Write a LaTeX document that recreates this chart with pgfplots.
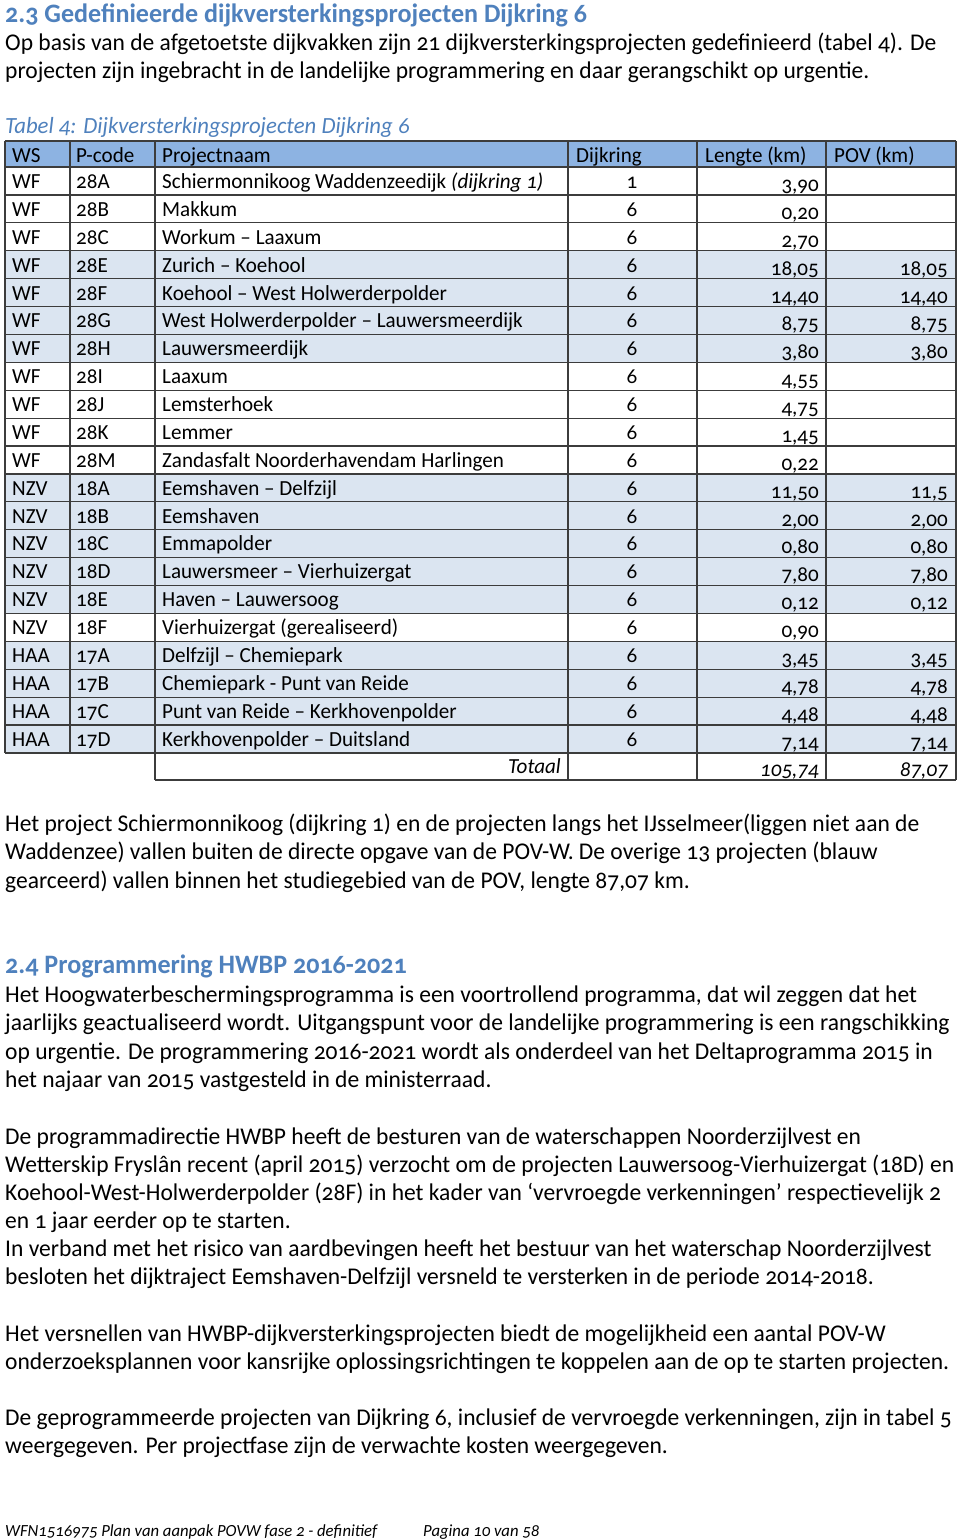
\documentclass[border=0pt]{standalone}
\usepackage{fontspec}
\setmainfont{Carlito}[Numbers=OldStyle, FakeStretch=0.98]
\usepackage{pgfplots}
\usepackage{pgfplotstable}
\pgfplotsset{compat=1.18}

\definecolor{headblue}{HTML}{4F81BD}
\definecolor{hdrfill}{HTML}{8DB3E2}
\definecolor{rowfill}{HTML}{DBE5F1}
\definecolor{rule}{HTML}{3C3C3C}

\newcommand{\body}{\fontsize{24}{28}\selectfont}
\newcommand{\tab}{\fontsize{21.5}{26}\selectfont}
\newcommand{\head}{\fontsize{26.6}{30}\selectfont\bfseries}

% row baselines (px from top)
\pgfplotstableread[col sep=semicolon]{
y;ws;pc;name;dk;len;pov
188;WF;28A;{Schiermonnikoog Waddenzeedijk \textit{(dijkring 1)}};1;3,90;{}
216;WF;28B;Makkum;6;0,20;{}
244;WF;28C;Workum – Laaxum;6;2,70;{}
272;WF;28E;Zurich – Koehool;6;18,05;18,05
300;WF;28F;Koehool – West Holwerderpolder;6;14,40;14,40
327;WF;28G;West Holwerderpolder – Lauwersmeerdijk;6;8,75;8,75
355;WF;28H;Lauwersmeerdijk;6;3,80;3,80
383;WF;28I;Laaxum;6;4,55;{}
411;WF;28J;Lemsterhoek;6;4,75;{}
439;WF;28K;Lemmer;6;1,45;{}
467;WF;28M;Zandasfalt Noorderhavendam Harlingen;6;0,22;{}
495;NZV;18A;Eemshaven – Delfzijl;6;11,50;11,5
523;NZV;18B;Eemshaven;6;2,00;2,00
550;NZV;18C;Emmapolder;6;0,80;0,80
578;NZV;18D;Lauwersmeer – Vierhuizergat;6;7,80;7,80
606;NZV;18E;Haven – Lauwersoog;6;0,12;0,12
634;NZV;18F;Vierhuizergat (gerealiseerd);6;0,90;{}
662;HAA;17A;Delfzijl – Chemiepark;6;3,45;3,45
690;HAA;17B;Chemiepark - Punt van Reide;6;4,78;4,78
718;HAA;17C;Punt van Reide – Kerkhovenpolder;6;4,48;4,48
746;HAA;17D;Kerkhovenpolder – Duitsland;6;7,14;7,14
}\projects

\begin{document}
\begin{tikzpicture}
\begin{axis}[
    name=page,
    xmin=0, xmax=960, ymin=0, ymax=1540,
    y dir=reverse,
    width=960pt, height=1540pt,
    scale only axis,
    axis lines=none,
    ticks=none,
    clip=false,
    every node near coord/.append style={inner sep=0pt, font=\tab, text=black},
]
\fill[white] (axis cs:0,0) rectangle (axis cs:960,1540);

% table shading
\fill[hdrfill] (axis cs:5,141) rectangle (axis cs:956,167);
\fill[rowfill] (axis cs:5,{167+27.9*3}) rectangle (axis cs:956,{167+27.9*7});
\fill[rowfill] (axis cs:5,{167+27.9*11}) rectangle (axis cs:956,{167+27.9*16});
\fill[rowfill] (axis cs:5,{167+27.9*17}) rectangle (axis cs:956,{167+27.9*21});

% table rules
\draw[rule, line width=1.2pt] (axis cs:5,141) -- (axis cs:956,141);
\pgfplotsinvokeforeach{0,...,21}{
  \draw[rule, line width=1.2pt] (axis cs:5,{167+27.9*#1}) -- (axis cs:956,{167+27.9*#1});
}
\draw[rule, line width=1.2pt] (axis cs:155,753) -- (axis cs:956,753);
\draw[rule, line width=1.2pt] (axis cs:155,780) -- (axis cs:956,780);
\pgfplotsinvokeforeach{5,70}{
  \draw[rule, line width=1.2pt] (axis cs:#1,141) -- (axis cs:#1,753);
}
\pgfplotsinvokeforeach{155,568,697,826,956}{
  \draw[rule, line width=1.2pt] (axis cs:#1,141) -- (axis cs:#1,780);
}

% header
\node[anchor=base west, inner sep=0pt, font=\tab] at (axis cs:12,162) {WS};
\node[anchor=base west, inner sep=0pt, font=\tab] at (axis cs:76,162) {P-code};
\node[anchor=base west, inner sep=0pt, font=\tab] at (axis cs:162,162) {Projectnaam};
\node[anchor=base west, inner sep=0pt, font=\tab] at (axis cs:576,162) {Dijkring};
\node[anchor=base west, inner sep=0pt, font=\tab] at (axis cs:705,162) {Lengte (km)};
\node[anchor=base west, inner sep=0pt, font=\tab] at (axis cs:834,162) {POV (km)};

% table body from data
\addplot[only marks, mark=none, nodes near coords, point meta=explicit symbolic,
  nodes near coords style={anchor=base west}] table[x expr=12, y=y, meta=ws] {\projects};
\addplot[only marks, mark=none, nodes near coords, point meta=explicit symbolic,
  nodes near coords style={anchor=base west}] table[x expr=76, y=y, meta=pc] {\projects};
\addplot[only marks, mark=none, nodes near coords, point meta=explicit symbolic,
  nodes near coords style={anchor=base west}] table[x expr=162, y=y, meta=name] {\projects};
\addplot[only marks, mark=none, nodes near coords, point meta=explicit symbolic,
  nodes near coords style={anchor=base}] table[x expr=632, y=y, meta=dk] {\projects};
\addplot[only marks, mark=none, nodes near coords, point meta=explicit symbolic,
  nodes near coords style={anchor=base east}] table[x expr=819, y expr=\thisrow{y}+3, meta=len] {\projects};
\addplot[only marks, mark=none, nodes near coords, point meta=explicit symbolic,
  nodes near coords style={anchor=base east}] table[x expr=948, y expr=\thisrow{y}+3, meta=pov] {\projects};
\node[anchor=base east, inner sep=0pt, font=\tab\itshape] at (axis cs:561,773) {Totaal};
\node[anchor=base east, inner sep=0pt, font=\tab\itshape] at (axis cs:819,776) {105,74};
\node[anchor=base east, inner sep=0pt, font=\tab\itshape] at (axis cs:948,776) {87,07};

% text
\node[anchor=base west, inner sep=0pt, font=\head, text=headblue] at (axis cs:5,22) {2.3 Gedefinieerde dijkversterkingsprojecten Dijkring 6};
\node[anchor=base west, inner sep=0pt, font=\body] at (axis cs:5,50) {Op basis van de afgetoetste dijkvakken zijn 21 dijkversterkingsprojecten gedefinieerd (tabel 4). De};
\node[anchor=base west, inner sep=0pt, font=\body] at (axis cs:5,78) {projecten zijn ingebracht in de landelijke programmering en daar gerangschikt op urgentie.};
\node[anchor=base west, inner sep=0pt, font=\fontsize{23.2}{28}\selectfont\itshape, text=headblue] at (axis cs:5,133) {Tabel 4: Dijkversterkingsprojecten Dijkring 6};

\node[anchor=base west, inner sep=0pt, font=\body] at (axis cs:5,831) {Het project Schiermonnikoog (dijkring 1) en de projecten langs het IJsselmeer(liggen niet aan de};
\node[anchor=base west, inner sep=0pt, font=\body] at (axis cs:5,859) {Waddenzee) vallen buiten de directe opgave van de POV-W. De overige 13 projecten (blauw};
\node[anchor=base west, inner sep=0pt, font=\body] at (axis cs:5,888) {gearceerd) vallen binnen het studiegebied van de POV, lengte 87,07 km.};

\node[anchor=base west, inner sep=0pt, font=\head, text=headblue] at (axis cs:5,973) {2.4 Programmering HWBP 2016-2021};
\node[anchor=base west, inner sep=0pt, font=\body] at (axis cs:5,1002) {Het Hoogwaterbeschermingsprogramma is een voortrollend programma, dat wil zeggen dat het};
\node[anchor=base west, inner sep=0pt, font=\body] at (axis cs:5,1030) {jaarlijks geactualiseerd wordt. Uitgangspunt voor de landelijke programmering is een rangschikking};
\node[anchor=base west, inner sep=0pt, font=\body] at (axis cs:5,1059) {op urgentie. De programmering 2016-2021 wordt als onderdeel van het Deltaprogramma 2015 in};
\node[anchor=base west, inner sep=0pt, font=\body] at (axis cs:5,1087) {het najaar van 2015 vastgesteld in de ministerraad.};

\node[anchor=base west, inner sep=0pt, font=\body] at (axis cs:5,1144) {De programmadirectie HWBP heeft de besturen van de waterschappen Noorderzijlvest en};
\node[anchor=base west, inner sep=0pt, font=\body] at (axis cs:5,1172) {Wetterskip Fryslân recent (april 2015) verzocht om de projecten Lauwersoog-Vierhuizergat (18D) en};
\node[anchor=base west, inner sep=0pt, font=\body] at (axis cs:5,1200) {Koehool-West-Holwerderpolder (28F) in het kader van ‘vervroegde verkenningen’ respectievelijk 2};
\node[anchor=base west, inner sep=0pt, font=\body] at (axis cs:5,1228) {en 1 jaar eerder op te starten.};
\node[anchor=base west, inner sep=0pt, font=\body] at (axis cs:5,1256) {In verband met het risico van aardbevingen heeft het bestuur van het waterschap Noorderzijlvest};
\node[anchor=base west, inner sep=0pt, font=\body] at (axis cs:5,1284) {besloten het dijktraject Eemshaven-Delfzijl versneld te versterken in de periode 2014-2018.};

\node[anchor=base west, inner sep=0pt, font=\body] at (axis cs:5,1341) {Het versnellen van HWBP-dijkversterkingsprojecten biedt de mogelijkheid een aantal POV-W};
\node[anchor=base west, inner sep=0pt, font=\body] at (axis cs:5,1369) {onderzoeksplannen voor kansrijke oplossingsrichtingen te koppelen aan de op te starten projecten.};

\node[anchor=base west, inner sep=0pt, font=\body] at (axis cs:5,1425) {De geprogrammeerde projecten van Dijkring 6, inclusief de vervroegde verkenningen, zijn in tabel 5};
\node[anchor=base west, inner sep=0pt, font=\body] at (axis cs:5,1453) {weergegeven. Per projectfase zijn de verwachte kosten weergegeven.};

\node[anchor=base west, inner sep=0pt, font=\fontsize{17}{20}\selectfont\itshape] at (axis cs:5,1536) {WFN1516975 Plan van aanpak POVW fase 2 - definitief};
\node[anchor=base west, inner sep=0pt, font=\fontsize{17}{20}\selectfont\itshape] at (axis cs:423,1536) {Pagina 10 van 58};
\end{axis}
\pgfresetboundingbox
\path (page.south west) rectangle (page.north east);
\end{tikzpicture}
\end{document}
